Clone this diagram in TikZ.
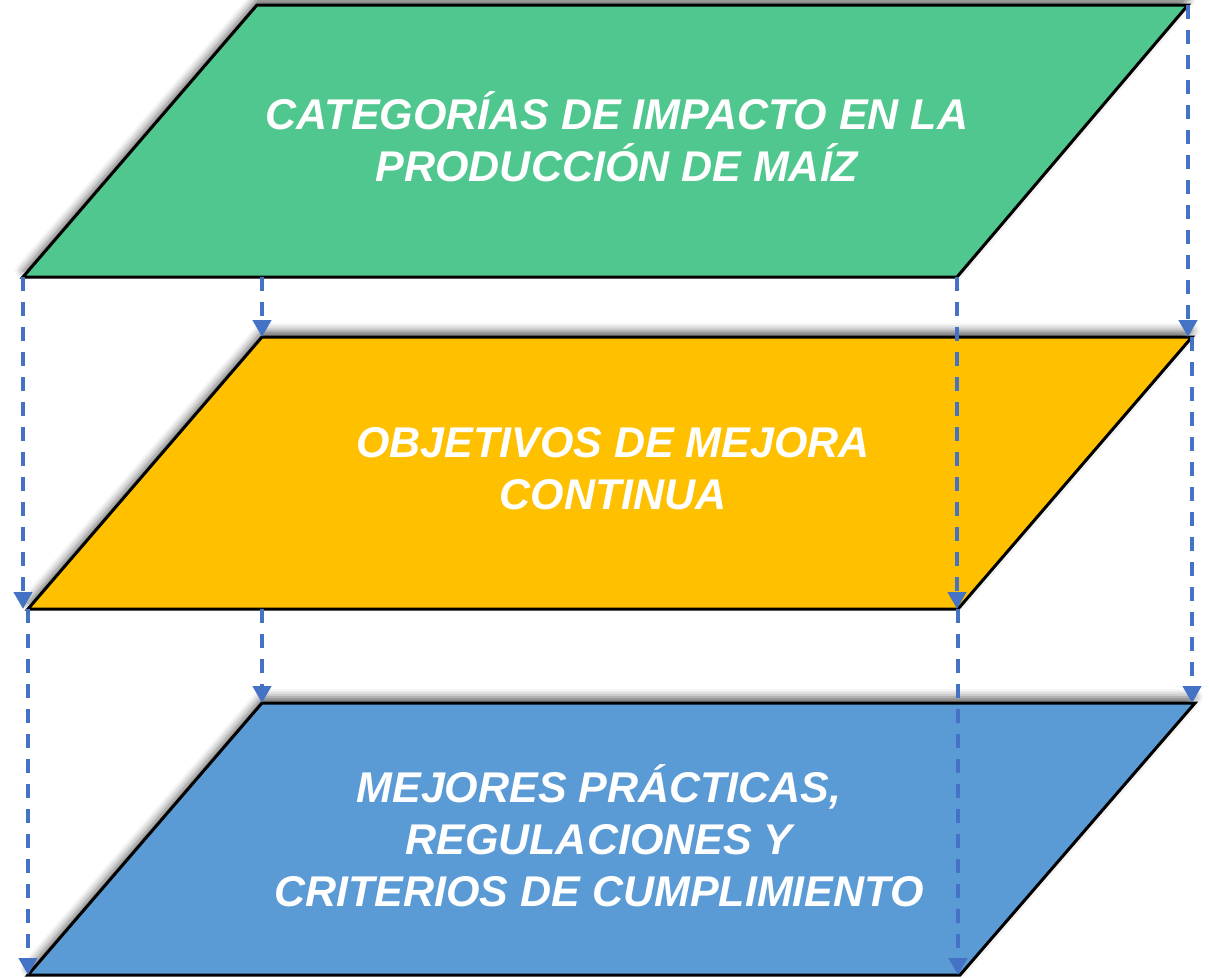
\documentclass[tikz,border=0pt]{standalone}
\usepackage{fontspec}
\setmainfont{Liberation Sans}
\usepackage{tikz}
\usetikzlibrary{arrows.meta,calc,shadows.blur}
\usepackage{xcolor}
\definecolor{layergreen}{HTML}{4FC78E}
\definecolor{layergold}{HTML}{FFC000}
\definecolor{layerblue}{HTML}{5B9BD5}
\definecolor{linkblue}{HTML}{4472C4}
\tikzset{
  layer/.style={
    draw=black,
    line width=3pt,
    line join=miter
  },
  layershadow/.style={
    blur shadow={shadow xshift=0pt, shadow yshift=6pt,
      shadow blur radius=8pt, shadow opacity=60}
  },
  layertext/.style={
    text=white,
    align=center,
    font=\bfseries\itshape\fontsize{43}{52}\selectfont
  },
  link/.style={
    -{Triangle[length=17pt,width=18pt]},
    draw=linkblue,
    line width=4.5pt,
    dash pattern=on 14pt off 11pt
  }
}
\begin{document}
\begin{tikzpicture}[x=1pt,y=-1pt]
\useasboundingbox (0,0) rectangle (1209,977);
% corners of the three layers
\coordinate (g-tl) at (257,5);
\coordinate (g-tr) at (1188,5);
\coordinate (g-bl) at (23,277);
\coordinate (g-br) at (957,277);
\coordinate (y-tl) at (262,337);
\coordinate (y-tr) at (1192,337);
\coordinate (y-bl) at (28,609);
\coordinate (y-br) at (958,609);
\coordinate (b-tl) at (262,703);
\coordinate (b-tr) at (1195,703);
\coordinate (b-bl) at (28,975);
\coordinate (b-br) at (960,975);
% layers
\filldraw[layer, fill=layergreen, layershadow] (g-tl) -- (g-tr) -- (g-br) -- (g-bl) -- cycle;
\filldraw[layer, fill=layergold, layershadow] (y-tl) -- (y-tr) -- (y-br) -- (y-bl) -- cycle;
\filldraw[layer, fill=layerblue, layershadow] (b-tl) -- (b-tr) -- (b-br) -- (b-bl) -- cycle;
\node[layertext] (impacto) at (617,137) {CATEGORÍAS DE IMPACTO EN LA\\PRODUCCIÓN DE MAÍZ};
\node[layertext] (objetivos) at (613,469) {OBJETIVOS DE MEJORA\\CONTINUA};
\node[layertext] (practicas) at (599,836) {MEJORES PRÁCTICAS,\\REGULACIONES Y\\CRITERIOS DE CUMPLIMIENTO};
% dashed links between layers
\foreach \a/\b in {g-bl/g-bl |- y-bl, y-tl |- g-bl/y-tl, g-br/g-br |- y-br, g-tr/g-tr |- y-tr,
                   y-bl/y-bl |- b-bl, b-tl |- y-bl/b-tl, y-br/y-br |- b-br, y-tr/y-tr |- b-tr} {
  \draw[link] (\a) -- (\b);
}
\end{tikzpicture}
\end{document}
